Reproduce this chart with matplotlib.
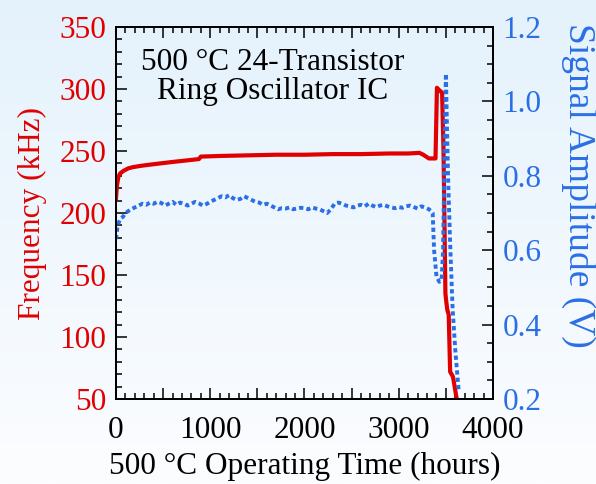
import numpy as np
import matplotlib
matplotlib.use('Agg')
import matplotlib.pyplot as plt
from matplotlib.ticker import MultipleLocator, FormatStrFormatter

plt.rcParams['font.family'] = ['Liberation Serif', 'DejaVu Serif']

RED = '#e00000'
BLUE = '#2b6fe6'
FS = 22.5

# frequency trace (hours, kHz)
freq_t = [0, 10, 25, 45, 80, 130, 180, 260, 360, 470, 580, 700, 820, 880, 900,
          1100, 1400, 1700, 2000, 2300, 2600, 2900, 3100, 3220, 3260, 3320, 3390,
          3405, 3430, 3460, 3475, 3495, 3505, 3515, 3530, 3545, 3575, 3615]
freq_v = [212, 222, 229, 232, 234, 236, 237, 238, 239, 240, 241, 242, 243, 243.5, 245.5,
          246, 246.5, 247, 247, 247.5, 247.5, 248, 248, 248.5, 247, 244, 244,
          301, 299, 297, 250, 135, 128, 122, 118, 72, 68, 50]

# signal amplitude trace (hours, V)
amp_t = [0, 15, 30, 50, 75, 100, 130, 160, 200, 240, 280, 320, 360, 400, 440, 480,
         520, 560, 600, 640, 680, 720, 760, 800, 840, 880, 920, 960, 1000, 1040,
         1080, 1120, 1160, 1200, 1240, 1280, 1320, 1360, 1400, 1440, 1480, 1520,
         1560, 1600, 1640, 1680, 1720, 1760, 1800, 1840, 1880, 1920, 1960, 2000,
         2040, 2080, 2120, 2160, 2200, 2240, 2280, 2320, 2360, 2400, 2440, 2480,
         2520, 2560, 2600, 2640, 2680, 2720, 2760, 2800, 2840, 2880, 2920, 2960,
         3000, 3040, 3080, 3120, 3160, 3200, 3240, 3280, 3320, 3345, 3360, 3375,
         3400, 3430, 3455, 3470, 3485, 3500, 3510, 3525, 3545, 3570, 3600, 3635]
amp_v = [0.63, 0.66, 0.675, 0.685, 0.69, 0.70, 0.705, 0.71, 0.715, 0.72, 0.725, 0.722,
         0.728, 0.725, 0.73, 0.727, 0.72, 0.725, 0.73, 0.722, 0.728, 0.725, 0.72,
         0.725, 0.73, 0.726, 0.72, 0.724, 0.73, 0.735, 0.74, 0.745, 0.742, 0.748,
         0.74, 0.735, 0.738, 0.745, 0.74, 0.735, 0.73, 0.728, 0.722, 0.725, 0.72,
         0.715, 0.71, 0.713, 0.712, 0.715, 0.71, 0.712, 0.714, 0.713, 0.71, 0.715,
         0.712, 0.71, 0.705, 0.70, 0.71, 0.725, 0.728, 0.725, 0.72, 0.718, 0.715,
         0.72, 0.722, 0.718, 0.725, 0.72, 0.716, 0.72, 0.722, 0.718, 0.715, 0.713,
         0.716, 0.714, 0.718, 0.72, 0.716, 0.712, 0.718, 0.715, 0.71, 0.705, 0.70,
         0.60, 0.53, 0.515, 0.52, 0.60, 0.85, 1.075, 0.95, 0.78, 0.62, 0.45, 0.33, 0.225]

fig = plt.figure(figsize=(5.96, 4.84), dpi=100)

# light blue gradient backdrop
bg = fig.add_axes([0, 0, 1, 1], zorder=-10)
top = np.array([228, 242, 252]) / 255.0
bot = np.array([252, 253, 255]) / 255.0
w = np.linspace(0, 1, 256)[:, None]
grad = (top * (1 - w) + bot * w)[:, None, :]
bg.imshow(grad, aspect='auto', extent=[0, 1, 0, 1])
bg.axis('off')

ax = fig.add_axes([0.1946, 0.1756, 0.6326, 0.7686])
ax.set_facecolor('none')
ax2 = ax.twinx()

ax.plot(freq_t, freq_v, color=RED, lw=3.0, solid_joinstyle='round', zorder=3)
ax2.plot(amp_t, amp_v, color=BLUE, lw=2.8, linestyle=(0, (1.1, 0.8)), zorder=2)

ax.set_xlim(0, 4000)
ax.set_ylim(50, 350)
ax2.set_ylim(0.2, 1.2)

ax.set_xticks(np.arange(0, 4001, 500))
ax.set_xticklabels(['0', '', '1000', '', '2000', '', '3000', '', '4000'])
ax.xaxis.set_minor_locator(MultipleLocator(100))
ax.yaxis.set_major_locator(MultipleLocator(50))
ax.yaxis.set_minor_locator(MultipleLocator(10))
ax2.yaxis.set_major_locator(MultipleLocator(0.2))
ax2.yaxis.set_minor_locator(MultipleLocator(0.05))
ax2.yaxis.set_major_formatter(FormatStrFormatter('%.1f'))

for a in (ax, ax2):
    a.tick_params(which='major', direction='in', length=8, width=1.1, labelsize=FS, pad=7)
    a.tick_params(which='minor', direction='in', length=4.2, width=1.1)
    for s in a.spines.values():
        s.set_linewidth(1.4)

ax.tick_params(axis='x', which='both', top=True, bottom=True)
ax.tick_params(axis='x', which='major', pad=12)
ax.tick_params(axis='y', which='both', left=True, right=False, labelcolor=RED)
ax2.tick_params(axis='y', which='both', left=False, right=True, labelcolor=BLUE)

ax.set_xlabel('500 °C Operating Time (hours)', fontsize=FS, labelpad=5)
ax.set_ylabel('Frequency (kHz)', fontsize=FS, color=RED, labelpad=9)
rl = ax2.set_ylabel('Signal Amplitude (V)', fontsize=27, color=BLUE, rotation=270)
ax2.yaxis.set_label_coords(1.226, 0.575)
rl.set_ha('center')
rl.set_va('center')
rl.set_rotation_mode('anchor')

ax.text(0.416, 0.866, '500 °C 24-Transistor\nRing Oscillator IC', transform=ax.transAxes,
        ha='center', va='center', fontsize=FS, linespacing=1.0)

fig.savefig('out.png', dpi=100, facecolor=fig.get_facecolor())
